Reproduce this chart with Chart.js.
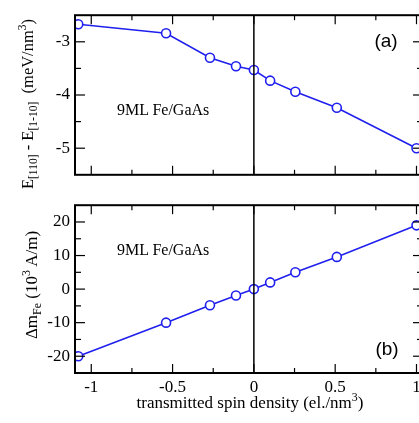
<!DOCTYPE html>
<html>
<head>
<meta charset="utf-8">
<script src="https://cdn.jsdelivr.net/npm/chart.js@4.4.1/dist/chart.umd.min.js"></script>
<style>
  html, body { margin: 0; padding: 0; background: #fff; overflow: hidden; }
  #wrap { position: relative; width: 419px; height: 423px; overflow: hidden; }
  canvas { position: absolute; left: 0; }
  .txt { position: absolute; white-space: nowrap; color: #000; line-height: 1; }
  .serif { font-family: "Liberation Serif", serif; }
  .sans { font-family: "Liberation Sans", sans-serif; }
  .rot { transform: translate(-50%, -50%) rotate(-90deg); }
  sub, sup { font-size: 70%; line-height: 0; }
</style>
</head>
<body>
<div id="wrap">
  <canvas id="top-chart" width="430" height="190" style="top:0"></canvas>
  <canvas id="bottom-chart" width="430" height="233" style="top:190px"></canvas>

  <div class="txt serif rot" style="left:28px; top:104px; font-size:16.5px;">E<sub>[110]</sub> - E<sub>[1-10]</sub>&nbsp; (meV/nm<sup>3</sup>)</div>
  <div class="txt serif rot" style="left:31px; top:285px; font-size:17px;">&Delta;m<sub>Fe</sub> (10<sup>3</sup> A/m)</div>
  <div class="txt serif" style="left:250px; top:394px; font-size:17px; transform:translateX(-50%);">transmitted spin density (el./nm<sup>3</sup>)</div>

  <div class="txt serif" style="left:117px; top:102px; font-size:16px;">9ML Fe/GaAs</div>
  <div class="txt serif" style="left:117px; top:242px; font-size:16px;">9ML Fe/GaAs</div>
  <div class="txt sans" style="left:386px; top:40px; font-size:19px; transform:translate(-50%,-50%);">(a)</div>
  <div class="txt sans" style="left:387px; top:348px; font-size:19px; transform:translate(-50%,-50%);">(b)</div>
</div>

<script>
// transmitted spin density (el./nm^3)
const spinDensity = [-1.08, -0.54, -0.27, -0.11, 0, 0.1, 0.255, 0.51, 1.0];
// (a) E[110] - E[1-10] (meV/nm^3)
const anisotropyEnergy = [-2.67, -2.84, -3.30, -3.46, -3.53, -3.73, -3.94, -4.24, -5.00];
// (b) delta m_Fe (10^3 A/m)
const deltaMoment = [-20, -10, -4.8, -1.9, 0, 2.0, 5.0, 9.6, 19.0];

const xMajorTicks = [-1, -0.5, 0, 0.5, 1];
const xMinorTicks = [-0.75, -0.25, 0.25, 0.75];
const topMajorTicks = [-5, -4, -3];
const topMinorTicks = [-4.5, -3.5];
const bottomMajorTicks = [-20, -10, 0, 10, 20];
const bottomMinorTicks = [-15, -5, 5, 15];

const lineColor = "#2020ee";

Chart.defaults.font.family = "'Liberation Serif', serif";
Chart.defaults.font.size = 17;
Chart.defaults.color = "#000";

const toPoints = (ys) => spinDensity.map((x, i) => ({ x, y: ys[i] }));

// inward ticks on all four sides, closed frame and the vertical zero line
const frameTicks = {
  id: "frameTicks",
  afterDatasetsDraw(chart, args, opts) {
    const { ctx, chartArea: a, scales } = chart;
    const x = scales.x, y = scales.y;
    const seg = (x1, y1, x2, y2) => {
      ctx.beginPath();
      ctx.moveTo(x1, y1);
      ctx.lineTo(x2, y2);
      ctx.stroke();
    };
    ctx.save();
    ctx.strokeStyle = "#000";

    ctx.lineWidth = 1.5;
    const x0 = x.getPixelForValue(0);
    seg(x0, a.top, x0, a.bottom);

    ctx.lineWidth = 1.2;
    const xt = (vals, len) => vals.forEach((v) => {
      const p = x.getPixelForValue(v);
      seg(p, a.bottom, p, a.bottom - len);
      seg(p, a.top, p, a.top + len);
    });
    const yt = (vals, len) => vals.forEach((v) => {
      const p = y.getPixelForValue(v);
      seg(a.left, p, a.left + len, p);
      seg(a.right, p, a.right - len, p);
    });
    xt(xMajorTicks, 9);
    xt(xMinorTicks, 5);
    yt(opts.major, 10);
    yt(opts.minor, 6);

    ctx.lineWidth = 2;
    ctx.strokeRect(a.left, a.top, a.right - a.left, a.bottom - a.top);
    ctx.restore();
  },
};

const dataset = (ys) => ({
  data: toPoints(ys),
  borderColor: lineColor,
  borderWidth: 1.6,
  pointRadius: 4.5,
  pointBorderWidth: 1.6,
  pointBackgroundColor: "#fff",
  pointBorderColor: lineColor,
});

const setTicks = (vals) => (scale) => {
  scale.ticks = vals.map((value) => ({ value }));
};

new Chart(document.getElementById("top-chart"), {
  type: "line",
  data: { datasets: [dataset(anisotropyEnergy)] },
  options: {
    responsive: false,
    animation: false,
    devicePixelRatio: 1,
    layout: { padding: { left: 0, right: 7, top: 11, bottom: 5 } },
    plugins: {
      legend: { display: false },
      tooltip: { enabled: false },
      frameTicks: { major: topMajorTicks, minor: topMinorTicks },
    },
    scales: {
      x: { type: "linear", min: -1.1, max: 1.04, display: false },
      y: {
        min: -5.5,
        max: -2.5,
        afterBuildTicks: setTicks(topMajorTicks),
        afterFit: (s) => { s.width = 75; },
        grid: { display: false, drawTicks: false },
        border: { display: false },
        ticks: { padding: 5, callback: (v) => String(v) },
      },
    },
  },
  plugins: [frameTicks],
});

new Chart(document.getElementById("bottom-chart"), {
  type: "line",
  data: { datasets: [dataset(deltaMoment)] },
  options: {
    responsive: false,
    animation: false,
    devicePixelRatio: 1,
    layout: { padding: { left: 0, right: 7, top: 11, bottom: 0 } },
    plugins: {
      legend: { display: false },
      tooltip: { enabled: false },
      frameTicks: { major: bottomMajorTicks, minor: bottomMinorTicks },
    },
    scales: {
      x: {
        type: "linear",
        min: -1.1,
        max: 1.04,
        afterBuildTicks: setTicks(xMajorTicks),
        afterFit: (s) => { s.height = 50; },
        grid: { display: false, drawTicks: false },
        border: { display: false },
        ticks: { padding: 4, maxRotation: 0, callback: (v) => String(v) },
      },
      y: {
        min: -25,
        max: 25,
        afterBuildTicks: setTicks(bottomMajorTicks),
        afterFit: (s) => { s.width = 75; },
        grid: { display: false, drawTicks: false },
        border: { display: false },
        ticks: { padding: 5, callback: (v) => String(v) },
      },
    },
  },
  plugins: [frameTicks],
});
</script>
</body>
</html>
